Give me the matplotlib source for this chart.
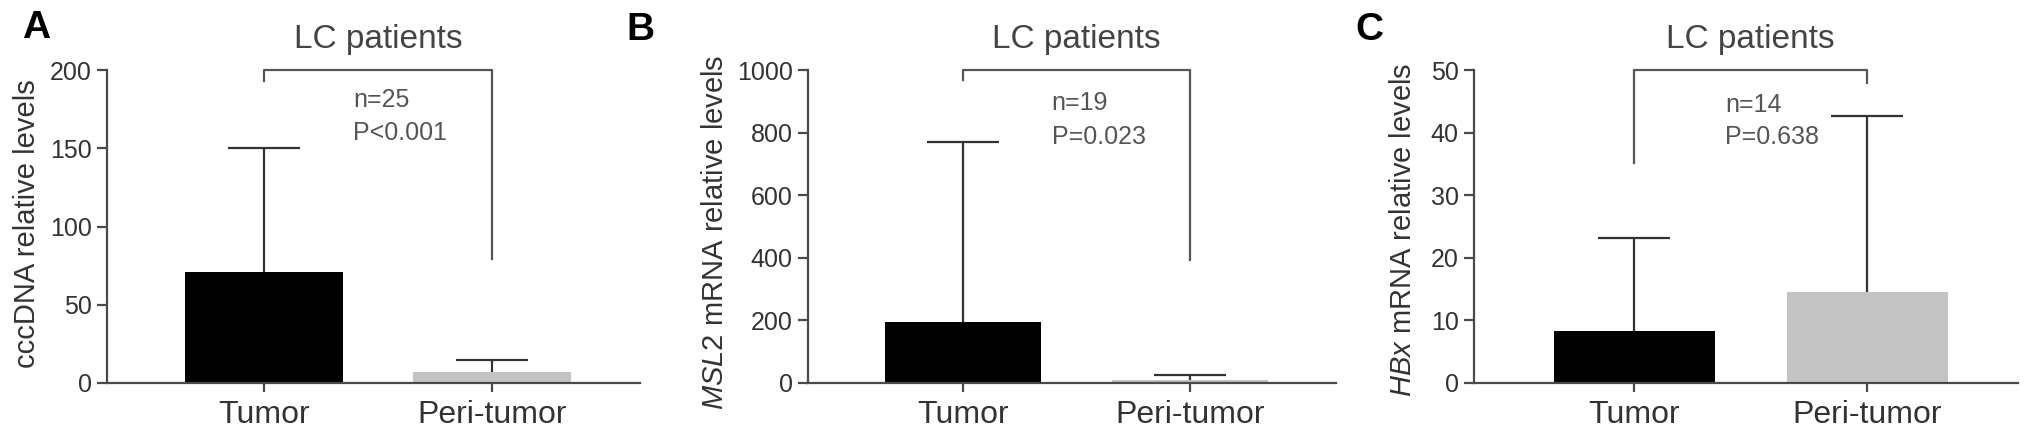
import matplotlib
matplotlib.use('Agg')
import matplotlib.pyplot as plt

plt.rcParams['font.family'] = ['Liberation Sans', 'DejaVu Sans']
plt.rcParams['mathtext.fontset'] = 'custom'
plt.rcParams['mathtext.rm'] = 'Liberation Sans'
plt.rcParams['mathtext.it'] = 'Liberation Sans:italic'

groups = ['Tumor', 'Peri-tumor']

# panel A - cccDNA
cccdna_mean = [71, 7]
cccdna_upper = [150, 15]
# panel B - MSL2 mRNA
msl2_mean = [195, 9]
msl2_upper = [770, 27]
# panel C - HBx mRNA
hbx_mean = [8.3, 14.5]
hbx_upper = [23.1, 42.6]

panels = [
    dict(letter='A', mean=cccdna_mean, upper=cccdna_upper, ymax=200, step=50,
         ylabel='cccDNA relative levels', n='n=25', p='P<0.001',
         legs=(193, 79), txt=(181, 160),
         pos=[107, 640], lab=(-0.123, 0.51), let=(36, 28)),
    dict(letter='B', mean=msl2_mean, upper=msl2_upper, ymax=1000, step=200,
         ylabel=r'$\mathit{MSL2}$ mRNA relative levels', n='n=19', p='P=0.023',
         legs=(968, 393), txt=(895, 786),
         pos=[808, 1336], lab=(-0.15, 0.48), let=(640, 30)),
    dict(letter='C', mean=hbx_mean, upper=hbx_upper, ymax=50, step=10,
         ylabel=r'$\mathit{HBx}$ mRNA relative levels', n='n=14', p='P=0.638',
         legs=(35.1, 47.9), txt=(44.4, 39.3),
         pos=[1474, 2018], lab=(-0.105, 0.49), let=(1369, 30)),
]

W, H = 2031, 444
fig = plt.figure(figsize=(W / 100, H / 100), dpi=100)
axcol = '#4a4a4a'

for pn in panels:
    left, right = pn['pos']
    ax = fig.add_axes([left / W, 1 - 383 / H, (right - left) / W, (383 - 70) / H])
    errs = [u - m for u, m in zip(pn['upper'], pn['mean'])]
    bars = ax.bar([0, 1], pn['mean'], width=0.69, color=['black', '#c3c3c3'],
                  yerr=[[0, 0], errs], capsize=26,
                  error_kw=dict(ecolor='#333333', elinewidth=1.6, capthick=1.6))
    # only the upper cap, like GraphPad
    bars.errorbar.lines[1][0].set_visible(False)
    ax.set_xlim(-0.686, 1.646)
    ax.set_ylim(0, pn['ymax'])
    ax.set_yticks(range(0, pn['ymax'] + 1, pn['step']))
    ax.set_xticks([0, 1])
    ax.set_xticklabels(groups)
    for s in ['top', 'right']:
        ax.spines[s].set_visible(False)
    for s in ['left', 'bottom']:
        ax.spines[s].set_color(axcol)
        ax.spines[s].set_linewidth(1.6)
    ax.tick_params(axis='y', length=7, width=1.6, color=axcol, labelsize=18,
                   labelcolor='#333333', pad=4)
    ax.tick_params(axis='x', length=6.5, width=1.6, color=axcol, labelsize=23,
                   labelcolor='#333333', pad=6)
    ax.set_ylabel(pn['ylabel'], fontsize=21, color='#333333')
    ax.yaxis.set_label_coords(*pn['lab'])

    # significance bracket
    top = pn['ymax']
    ax.plot([0, 0, 1, 1], [pn['legs'][0], top, top, pn['legs'][1]],
            color='#555555', lw=1.6, clip_on=False)
    ax.text(0.5, 1.096, 'LC patients', transform=ax.get_xaxis_transform(),
            ha='center', va='center', fontsize=24, color='#444444')
    ax.text(0.39, pn['txt'][0], pn['n'], fontsize=18, color='#555555', va='center')
    ax.text(0.39, pn['txt'][1], pn['p'], fontsize=18, color='#555555', va='center')

    fig.text(pn['let'][0] / W, 1 - pn['let'][1] / H, pn['letter'], fontsize=28,
             fontweight='bold', ha='center', va='center')

fig.savefig('out.png', dpi=100)
